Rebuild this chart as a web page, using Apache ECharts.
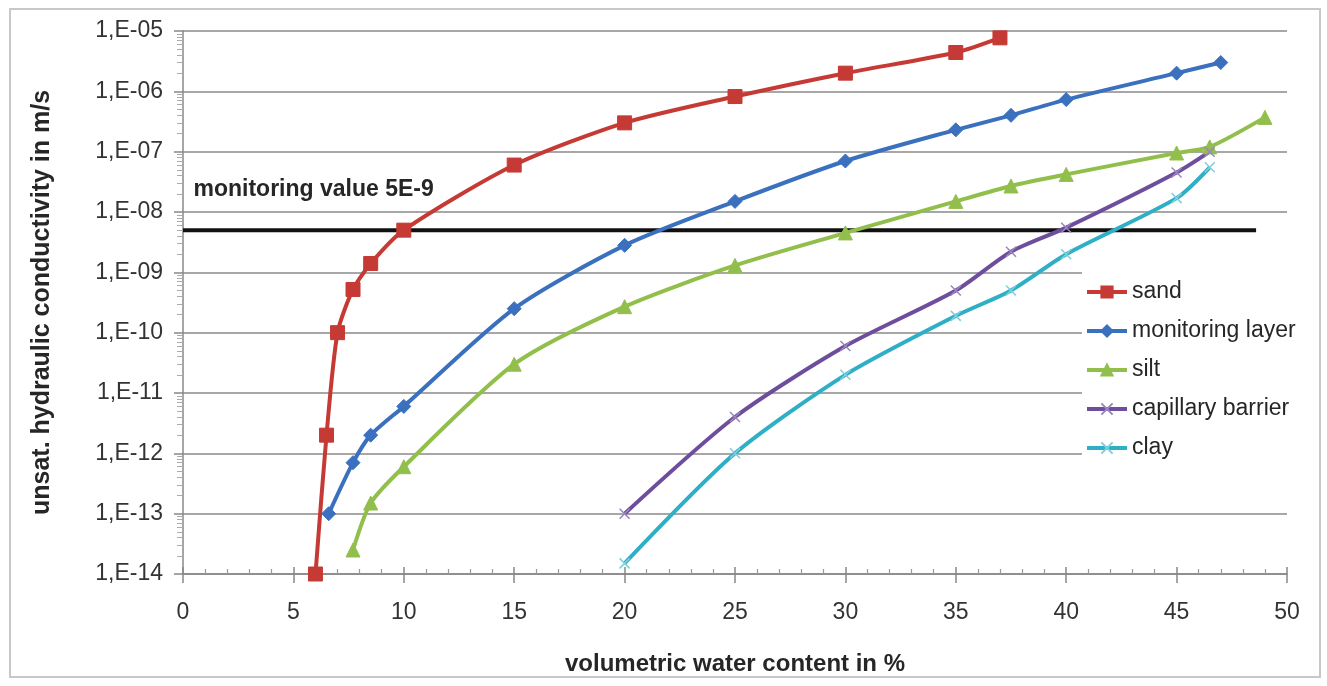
<!DOCTYPE html>
<html>
<head>
<meta charset="utf-8">
<script src="https://cdn.jsdelivr.net/npm/echarts@6/dist/echarts.min.js"></script>
<style>
  html, body { margin: 0; padding: 0; background: #fff; }
  #chart { width: 1327px; height: 686px; }
</style>
</head>
<body>
<div id="chart"></div>
<script>
// Unsaturated hydraulic conductivity (m/s) versus volumetric water content (%)
const seriesNames = ['sand', 'monitoring layer', 'silt', 'capillary barrier', 'clay'];

const sandTheta = [6, 6.5, 7, 7.7, 8.5, 10, 15, 20, 25, 30, 35, 37];
const sandK = [1e-14, 2e-12, 1e-10, 5.2e-10, 1.4e-9, 5e-9, 6e-8, 3e-7, 8.2e-7, 2e-6, 4.4e-6, 7.7e-6];

const monitoringTheta = [6.6, 7.7, 8.5, 10, 15, 20, 25, 30, 35, 37.5, 40, 45, 47];
const monitoringK = [1e-13, 7e-13, 2e-12, 6e-12, 2.5e-10, 2.8e-9, 1.5e-8, 7e-8, 2.3e-7, 4e-7, 7.3e-7, 2e-6, 3e-6];

const siltTheta = [7.7, 8.5, 10, 15, 20, 25, 30, 35, 37.5, 40, 45, 46.5, 49];
const siltK = [2.5e-14, 1.5e-13, 6e-13, 3e-11, 2.7e-10, 1.3e-9, 4.5e-9, 1.5e-8, 2.7e-8, 4.2e-8, 9.5e-8, 1.2e-7, 3.7e-7];

const barrierTheta = [20, 25, 30, 35, 37.5, 40, 45, 46.5];
const barrierK = [1e-13, 4e-12, 6e-11, 5e-10, 2.2e-9, 5.5e-9, 4.5e-8, 1e-7];

const clayTheta = [20, 25, 30, 35, 37.5, 40, 45, 46.5];
const clayK = [1.5e-14, 1e-12, 2e-11, 1.9e-10, 5e-10, 2e-9, 1.7e-8, 5.5e-8];

// threshold line for the monitoring value
const limitTheta = [0, 48.6];
const limitK = [5e-9, 5e-9];
const limitLabel = 'monitoring value 5E-9';

const xTickLabels = ['0', '5', '10', '15', '20', '25', '30', '35', '40', '45', '50'];
const yTickLabels = ['1,E-14', '1,E-13', '1,E-12', '1,E-11', '1,E-10', '1,E-09', '1,E-08', '1,E-07', '1,E-06', '1,E-05'];

const xTitle = 'volumetric water content in %';
const yTitle = 'unsat. hydraulic conductivity in m/s';

const pairs = (xs, ys) => xs.map((x, i) => [x, ys[i]]);

const FONT = '"Liberation Sans", Arial, sans-serif';
const colors = {
  sand: '#C63A35',
  monitoring: '#3A70BE',
  silt: '#92BF4C',
  barrier: '#6E4E9C',
  clay: '#2EAFC5'
};
const crossPath = 'path://M0,0L10,10M10,0L0,10';

const chart = echarts.init(document.getElementById('chart'), null, { renderer: 'canvas' });

function lineSeries(name, data, color, symbol, size, extra) {
  return Object.assign({
    name: name,
    type: 'line',
    data: data,
    smooth: 0.25,
    symbol: symbol,
    symbolSize: size,
    showAllSymbol: true,
    lineStyle: { color: color, width: 4 },
    itemStyle: { color: color, borderColor: color, borderWidth: 1 },
    emphasis: { disabled: true },
    z: 3
  }, extra || {});
}

const xIndexOf = v => Math.round(v / 5);
const yIndexOf = v => Math.round(Math.log10(v)) + 14;

chart.setOption({
  animation: false,
  backgroundColor: '#fff',
  textStyle: { fontFamily: FONT },
  grid: { left: 183, right: 40, top: 31, bottom: 112, containLabel: false },
  graphic: [{
    type: 'rect',
    shape: { x: 10, y: 9, width: 1310, height: 668 },
    style: { fill: 'none', stroke: '#c8c8c8', lineWidth: 2 },
    silent: true,
    z: -1
  }],
  legend: {
    data: seriesNames,
    orient: 'vertical',
    left: 1082,
    top: 268,
    backgroundColor: '#fff',
    padding: [12, 12, 3, 3],
    itemWidth: 40,
    itemHeight: 14,
    itemGap: 15,
    lineStyle: { width: 4 },
    textStyle: { fontSize: 23, lineHeight: 24, color: '#262626', fontFamily: FONT }
  },
  xAxis: [{
    type: 'value',
    min: 0, max: 50, interval: 5,
    name: xTitle,
    nameLocation: 'middle',
    nameGap: 78,
    nameTextStyle: { fontSize: 24, fontWeight: 'bold', color: '#262626', fontFamily: FONT },
    axisLine: { show: true, onZero: false, lineStyle: { color: '#888', width: 1.5 } },
    axisTick: { show: true, inside: false, length: 9, lineStyle: { color: '#888', width: 1.5 } },
    axisLabel: {
      margin: 27, fontSize: 23, color: '#333', fontFamily: FONT,
      formatter: v => xTickLabels[xIndexOf(v)]
    },
    splitLine: { show: false }
  }, {
    type: 'value',
    min: 0, max: 50, interval: 5,
    position: 'bottom',
    axisLine: { show: false },
    axisTick: { show: true, inside: true, length: 7, lineStyle: { color: '#888', width: 1.5 } },
    minorTick: { show: true, splitNumber: 5, length: 5, lineStyle: { color: '#999', width: 1.2 } },
    axisLabel: { show: false },
    splitLine: { show: false }
  }],
  yAxis: [{
    type: 'log',
    logBase: 10,
    min: 1e-14, max: 1e-5, interval: 1,
    name: yTitle,
    nameLocation: 'middle',
    nameGap: 128,
    nameRotate: 90,
    nameTextStyle: { fontSize: 25, fontWeight: 'bold', color: '#262626', fontFamily: FONT },
    axisLine: { show: true, onZero: false, lineStyle: { color: '#888', width: 1.5 } },
    axisTick: { show: true, inside: false, length: 9, lineStyle: { color: '#888', width: 1.5 } },
    axisLabel: {
      margin: 20, fontSize: 23, color: '#333', fontFamily: FONT,
      formatter: v => yTickLabels[yIndexOf(v)]
    },
    splitLine: { show: true, lineStyle: { color: '#8a8a8a', width: 1.5 } }
  }, {
    type: 'log',
    logBase: 10,
    min: 1e-14, max: 1e-5, interval: 1,
    position: 'left',
    axisLine: { show: false },
    axisTick: { show: false },
    minorTick: { show: true, splitNumber: 9, length: 6, lineStyle: { color: '#aaa', width: 1 } },
    axisLabel: { show: false },
    splitLine: { show: false }
  }],
  series: [
    lineSeries(seriesNames[0], pairs(sandTheta, sandK), colors.sand, 'rect', 14),
    lineSeries(seriesNames[1], pairs(monitoringTheta, monitoringK), colors.monitoring, 'diamond', 14),
    lineSeries(seriesNames[2], pairs(siltTheta, siltK), colors.silt, 'triangle', 14),
    lineSeries(seriesNames[3], pairs(barrierTheta, barrierK), colors.barrier, crossPath, 10,
      { itemStyle: { color: colors.barrier, borderColor: '#9a86c0', borderWidth: 1.5 } }),
    lineSeries(seriesNames[4], pairs(clayTheta, clayK), colors.clay, crossPath, 10,
      { itemStyle: { color: colors.clay, borderColor: '#7fcfdd', borderWidth: 1.5 } }),
    {
      name: 'limit',
      type: 'line',
      data: pairs(limitTheta, limitK),
      symbol: 'circle',
      symbolSize: 1,
      showSymbol: true,
      itemStyle: { color: 'rgba(0,0,0,0)' },
      label: {
        show: true,
        position: 'right',
        distance: 10,
        offset: [0, -41],
        formatter: p => (p.dataIndex === 0 ? limitLabel : ''),
        fontSize: 23,
        fontWeight: 'bold',
        color: '#262626',
        fontFamily: FONT
      },
      lineStyle: { color: '#111', width: 4 },
      emphasis: { disabled: true },
      z: 2
    }
  ]
});
</script>
</body>
</html>
